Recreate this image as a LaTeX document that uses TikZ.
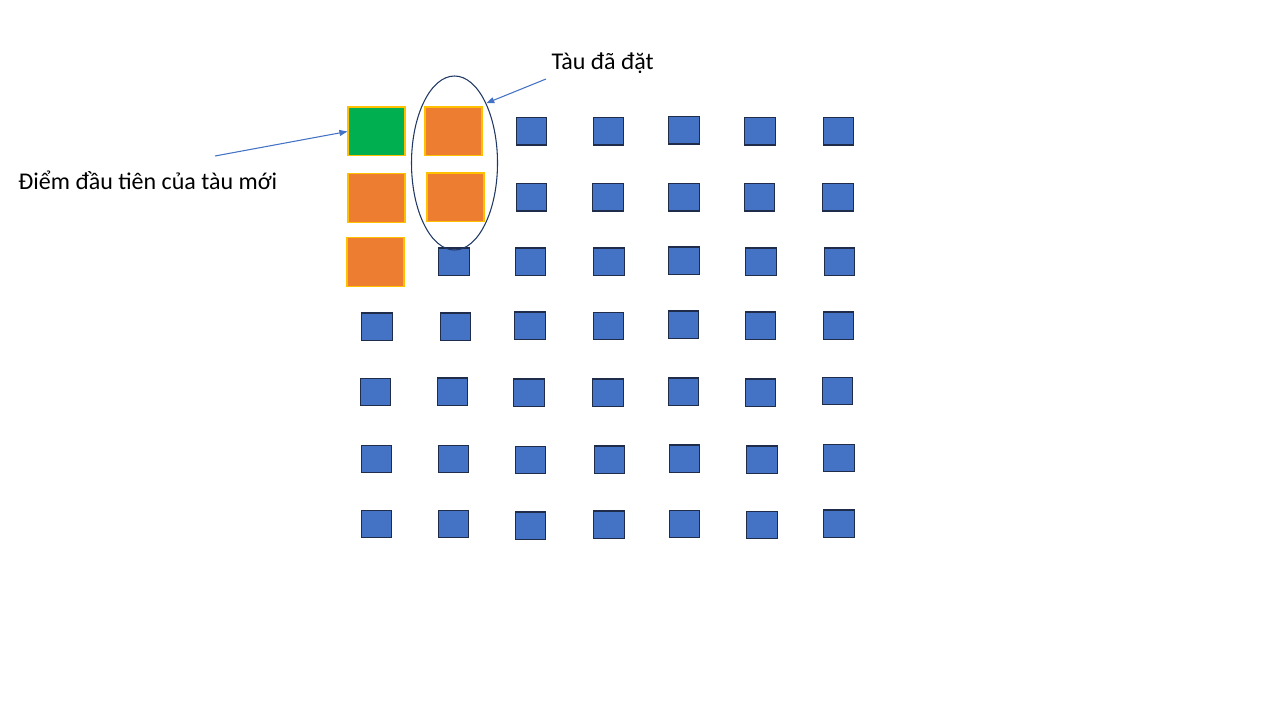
\documentclass[tikz,border=0pt]{standalone}
\usepackage{fontspec}
\setmainfont{Carlito}
\usetikzlibrary{shapes.geometric,arrows.meta}
\definecolor{shipblue}{RGB}{68,114,196}
\definecolor{shipedge}{RGB}{31,45,75}
\definecolor{shiporange}{RGB}{237,125,49}
\definecolor{shipgreen}{RGB}{0,176,80}
\definecolor{shipgold}{RGB}{255,192,0}
\definecolor{ringblue}{RGB}{32,56,100}
\tikzset{every picture/.style={line width=0.75pt}}
\tikzset{
  cell/.style={draw=shipedge, fill=shipblue, line width=0.9pt, inner sep=0pt, minimum width=22.8pt, minimum height=20.4pt},
  shipcell/.style={draw=shipgold, fill=shiporange, line width=0.9pt, inner sep=0pt, minimum width=42.75pt, minimum height=36.6pt},
  pointer/.style={draw=shipblue, line width=0.8pt, -{Triangle[length=6pt,width=4.5pt]}},
  caption/.style={anchor=west, inner sep=0.75pt, font=\fontsize{18}{22}\selectfont}
}
\begin{document}
\begin{tikzpicture}[x=0.75pt,y=0.75pt,yscale=-1,xscale=1]
\useasboundingbox (0,0) rectangle (1280,720);

%Blue cells (row/column, centre)
\foreach \name/\cx/\cy in {
  c13/531.5/131.5, c14/608.5/131.5, c15/684/130.5, c16/760/131.5, c17/838.5/131.5,
  c23/531.5/197.5, c24/608/197.5, c25/684/197.5, c26/759.5/197.5, c27/838/197.5,
  c32/454/261.5, c33/530.5/261.5, c34/609/261.5, c35/684/260.5, c36/761/261.5, c37/839.5/261.5,
  c41/377/326.5, c42/455.5/326.5, c43/530/325.5, c44/608.5/326, c45/683.5/324.5, c46/760.5/325.5, c47/838.5/325.5,
  c51/375.5/392, c52/452.5/391.5, c53/529/392.5, c54/608/392.5, c55/683.5/391.5, c56/760.5/392.5, c57/837.5/391,
  c61/376.5/459, c62/453.5/459, c63/530.5/460, c64/609.5/459.5, c65/684.5/458.5, c66/762/459.5, c67/839/458,
  c71/376.5/524, c72/453.5/524, c73/530.5/525.5, c74/609/524.5, c75/684.5/524, c76/762/525, c77/839/523.5}
  \node [cell] (\name) at (\cx,\cy) {};

%Green cell
\node [shipcell, fill=shipgreen] (start) at (376.5,131.5) {};
%Orange cells
\node [shipcell] (s12) at (453.5,131.5) {};
\node [shipcell] (s21) at (376.5,198) {};
\node [shipcell] (s22) at (455.5,197.5) {};
\node [shipcell] (s31) at (375.5,262) {};

%Ellipse
\node [ellipse, draw=ringblue, line width=0.8pt, inner sep=0pt, minimum width=64.5pt, minimum height=130.5pt] (placed) at (454.5,163) {};

% Text Node
\node [caption] (newlbl) at (17,180) {Điểm đầu tiên của tàu mới};
% Text Node
\node [caption] (placedlbl) at (550,63) {Tàu đã đặt};

\coordinate (newtail) at (215,156);
\coordinate (placedtail) at (546,79);
\draw [pointer] (newtail) -- (start.west);
\draw [pointer] (placedtail) -- (placed.62);
\end{tikzpicture}
\end{document}
